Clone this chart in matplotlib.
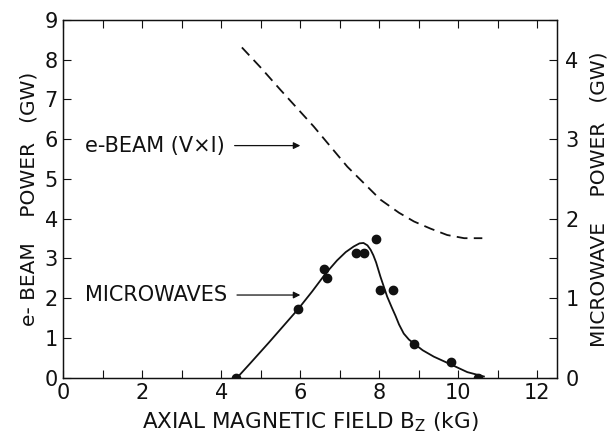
import numpy as np
import matplotlib.pyplot as plt
from matplotlib.ticker import MultipleLocator

# measured microwave power points (B field kG, GW)
b_pts = [4.38, 5.94, 6.61, 6.68, 7.40, 7.61, 7.92, 8.03, 8.34, 8.89, 9.82, 10.50]
mw_pts = [0.0, 0.865, 1.37, 1.26, 1.57, 1.57, 1.75, 1.10, 1.10, 0.42, 0.20, 0.0]

# hand-drawn fit through the microwave points (GW)
b_fit = [4.40, 4.73, 5.20, 5.94, 6.30, 6.64, 6.93, 7.15, 7.35, 7.50, 7.60, 7.70,
         7.78, 7.85, 7.92, 8.03, 8.20, 8.32, 8.41, 8.50, 8.62, 8.75, 8.89, 9.10,
         9.38, 9.82, 10.23, 10.65]
mw_fit = [0.0, 0.18, 0.44, 0.86, 1.085, 1.31, 1.475, 1.58, 1.65, 1.69, 1.695, 1.665,
          1.61, 1.54, 1.45, 1.27, 1.02, 0.88, 0.78, 0.67, 0.555, 0.48, 0.425, 0.345,
          0.265, 0.165, 0.07, 0.015]

# e-beam power V x I (GW)
b_beam = [4.52, 5.00, 5.49, 6.34, 7.19, 8.03, 8.50, 8.88, 9.30, 9.72, 10.15, 10.61]
p_beam = [8.31, 7.80, 7.25, 6.32, 5.31, 4.48, 4.15, 3.93, 3.75, 3.59, 3.51, 3.51]

ink = '#111111'
plt.rcParams['font.family'] = ['DejaVu Sans']

fig = plt.figure(figsize=(6.1, 4.38), dpi=100)
ax = fig.add_axes([0.104, 0.1377, 0.809, 0.8166])
ax2 = ax.twinx()

ax.plot(b_beam, p_beam, color=ink, lw=1.3, dashes=(6, 3.5))
ax2.plot(b_fit, mw_fit, color=ink, lw=1.3, solid_joinstyle='round')
ax2.plot(b_pts, mw_pts, 'o', color=ink, ms=6)

ax.set_xlim(0, 12.5)
ax.set_ylim(0, 9)
ax2.set_ylim(0, 4.5)

ax.xaxis.set_major_locator(MultipleLocator(2))
ax.xaxis.set_minor_locator(MultipleLocator(1))
ax.yaxis.set_major_locator(MultipleLocator(1))
ax2.yaxis.set_major_locator(MultipleLocator(1))
ax2.yaxis.set_minor_locator(MultipleLocator(0.5))

ax.tick_params(which='both', direction='in', top=True, length=6, width=0.8,
               labelsize=15, colors=ink, pad=4)
ax2.tick_params(which='both', direction='in', length=6, width=0.8,
                labelsize=15, colors=ink, pad=6)

for a in (ax, ax2):
    for s in a.spines.values():
        s.set_linewidth(0.9)
        s.set_color(ink)

ax.set_xlabel('AXIAL MAGNETIC FIELD B$_\\mathregular{Z}$ (kG)', fontsize=15.5, color=ink, labelpad=5)
ax.set_ylabel('e- BEAM    POWER   (GW)', fontsize=14.5, color=ink, labelpad=4)
ax2.set_ylabel('MICROWAVE    POWER   (GW)', fontsize=14.5, color=ink, labelpad=8)

ax.annotate('e-BEAM (V×I)', xy=(6.0, 5.84), xytext=(0.55, 5.84), fontsize=15, color=ink,
            va='center', arrowprops=dict(arrowstyle='-|>', color=ink, lw=0.9,
                                         shrinkA=5, shrinkB=0, mutation_scale=10))
ax.annotate('MICROWAVES', xy=(6.0, 2.08), xytext=(0.55, 2.08), fontsize=15, color=ink,
            va='center', arrowprops=dict(arrowstyle='-|>', color=ink, lw=0.9,
                                         shrinkA=5, shrinkB=0, mutation_scale=10))

fig.savefig('out.png', dpi=100)
